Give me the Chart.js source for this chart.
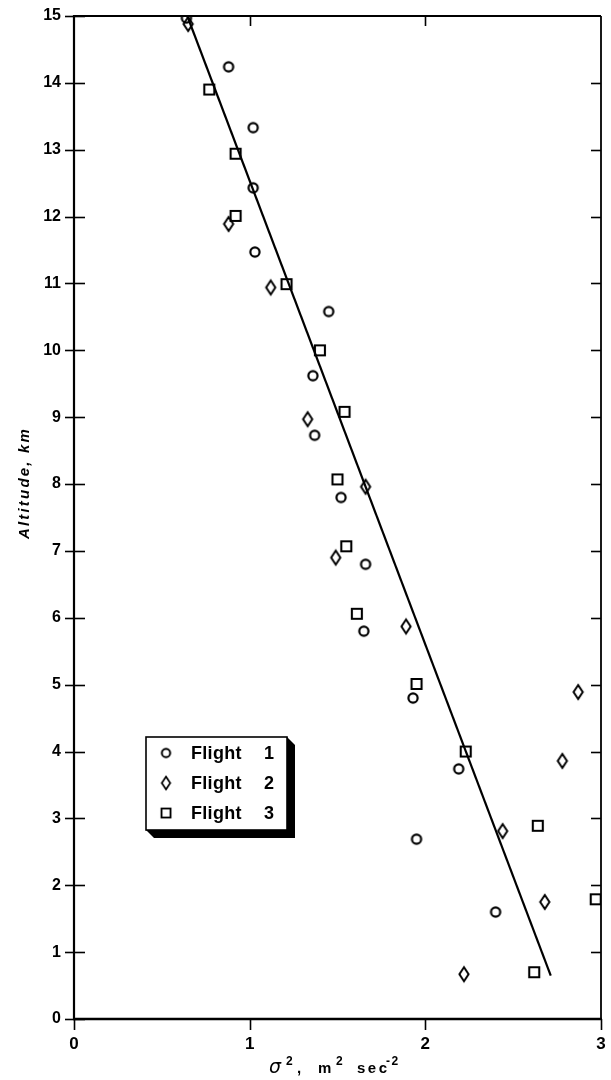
<!DOCTYPE html>
<html>
<head>
<meta charset="utf-8">
<script src="https://cdn.jsdelivr.net/npm/chart.js@4/dist/chart.umd.min.js"></script>
<style>
  html, body { margin: 0; padding: 0; background: #fff; }
  canvas { display: block; }
</style>
</head>
<body>
<canvas id="chart" width="611" height="1080"></canvas>
<script>
// Variance of vertical gust velocity against altitude, three flights
const flight1X = [0.64, 0.88, 1.02, 1.02, 1.03, 1.45, 1.36, 1.37, 1.52, 1.66, 1.65, 1.93, 2.19, 1.95, 2.40];
const flight1Y = [14.97, 14.24, 13.33, 12.43, 11.47, 10.58, 9.62, 8.73, 7.80, 6.80, 5.80, 4.80, 3.74, 2.69, 1.60];

const flight2X = [0.65, 0.88, 1.12, 1.33, 1.66, 1.49, 1.89, 2.87, 2.78, 2.44, 2.68, 2.22];
const flight2Y = [14.88, 11.89, 10.94, 8.97, 7.96, 6.90, 5.87, 4.89, 3.86, 2.81, 1.75, 0.67];

const flight3X = [0.77, 0.92, 0.92, 1.21, 1.40, 1.54, 1.50, 1.55, 1.61, 1.95, 2.23, 2.64, 2.62, 2.97];
const flight3Y = [13.90, 12.94, 12.01, 10.99, 10.00, 9.08, 8.07, 7.07, 6.06, 5.01, 4.00, 2.89, 0.70, 1.79];

// Straight-line fit through all flights
const fitX = [0.645, 2.714];
const fitY = [15.0, 0.65];

const xTicks = [0, 1, 2, 3];
const yTicks = [0, 1, 2, 3, 4, 5, 6, 7, 8, 9, 10, 11, 12, 13, 14, 15];
const seriesLabels = ['Flight 1', 'Flight 2', 'Flight 3'];

const INK = '#000';

function pairs(xs, ys) { return xs.map((x, i) => ({ x: x, y: ys[i] })); }

// Open plotting symbols drawn onto small canvases
function makeSymbol(kind) {
  const c = document.createElement('canvas');
  c.width = 18; c.height = 20;
  const g = c.getContext('2d');
  g.strokeStyle = INK;
  const cx = 9, cy = 10;
  g.beginPath();
  if (kind === 'circle') {
    g.lineWidth = 2.2;
    g.arc(cx, cy, 4.6, 0, Math.PI * 2);
  } else if (kind === 'diamond') {
    g.lineWidth = 2.0;
    g.moveTo(cx, cy - 7);
    g.lineTo(cx + 4.6, cy);
    g.lineTo(cx, cy + 7);
    g.lineTo(cx - 4.6, cy);
    g.closePath();
  } else {
    g.lineWidth = 2.1;
    g.rect(cx - 5, cy - 5, 10, 10);
  }
  g.stroke();
  return c;
}
const symCircle = makeSymbol('circle');
const symDiamond = makeSymbol('diamond');
const symSquare = makeSymbol('square');

// Frame, tick marks, axis titles and the boxed key
const decorations = {
  id: 'decorations',
  afterDatasetsDraw(chart) {
    const ctx = chart.ctx;
    const xs = chart.scales.x, ys = chart.scales.y;
    const L = xs.getPixelForValue(0), R = xs.getPixelForValue(3);
    const B = ys.getPixelForValue(0), T = ys.getPixelForValue(15);
    ctx.save();
    ctx.strokeStyle = INK;
    ctx.lineCap = 'butt';

    // frame
    ctx.lineWidth = 2.2;
    ctx.beginPath(); ctx.moveTo(L, T - 1); ctx.lineTo(L, B + 1); ctx.stroke();
    ctx.lineWidth = 2.6;
    ctx.beginPath(); ctx.moveTo(L - 1, B); ctx.lineTo(R + 1, B); ctx.stroke();
    ctx.lineWidth = 1.8;
    ctx.beginPath(); ctx.moveTo(L, T); ctx.lineTo(R, T); ctx.stroke();
    ctx.beginPath(); ctx.moveTo(R, T); ctx.lineTo(R, B); ctx.stroke();

    // left ticks cross the axis, right ticks point inward
    ctx.lineWidth = 1.6;
    yTicks.forEach(v => {
      const py = Math.round(ys.getPixelForValue(v)) + 0.5;
      ctx.beginPath(); ctx.moveTo(L - 9, py); ctx.lineTo(L + 11, py); ctx.stroke();
      if (v > 0 && v < 15) {
        ctx.beginPath(); ctx.moveTo(R - 10, py); ctx.lineTo(R, py); ctx.stroke();
      }
    });
    // bottom ticks point down, top ticks point inward
    xTicks.forEach(v => {
      const px = Math.round(xs.getPixelForValue(v)) + 0.5;
      ctx.beginPath(); ctx.moveTo(px, B); ctx.lineTo(px, B + 11); ctx.stroke();
      if (v > 0 && v < 3) {
        ctx.beginPath(); ctx.moveTo(px, T); ctx.lineTo(px, T + 10); ctx.stroke();
      }
    });

    ctx.fillStyle = INK;
    ctx.textBaseline = 'alphabetic';

    // y-axis title
    ctx.save();
    ctx.translate(29, 483);
    ctx.rotate(-Math.PI / 2);
    ctx.font = 'italic bold 15px "Liberation Sans", Arial, sans-serif';
    ctx.letterSpacing = '2.2px';
    ctx.textAlign = 'center';
    ctx.fillText('Altitude, km', 0, 0);
    ctx.restore();

    // x-axis title with superscripts
    const base = 1073;
    const sup = 'bold 12px "Liberation Sans", Arial, sans-serif';
    const main = 'bold 15px "Liberation Sans", Arial, sans-serif';
    const parts = [
      { t: 'σ', f: 'italic 19px "DejaVu Sans", sans-serif', x: 269, dy: 0, ls: '0px' },
      { t: '2', f: sup, x: 286, dy: -8, ls: '0px' },
      { t: ',', f: main, x: 297, dy: 0, ls: '0px' },
      { t: 'm', f: main, x: 318, dy: 0, ls: '0px' },
      { t: '2', f: sup, x: 336, dy: -8, ls: '0px' },
      { t: 'sec', f: main, x: 357, dy: 0, ls: '2.5px' },
      { t: '-2', f: sup, x: 386, dy: -8, ls: '1.5px' }
    ];
    ctx.textAlign = 'left';
    parts.forEach(p => {
      ctx.font = p.f;
      ctx.letterSpacing = p.ls;
      ctx.fillText(p.t, p.x, base + p.dy);
    });
    ctx.letterSpacing = '0px';

    // key box with drop shadow
    const bx = 146, by = 737, bw = 141, bh = 93, sh = 8;
    ctx.fillStyle = INK;
    ctx.beginPath();
    ctx.moveTo(bx + bw, by);
    ctx.lineTo(bx + bw + sh, by + sh);
    ctx.lineTo(bx + bw + sh, by + bh + sh);
    ctx.lineTo(bx + sh, by + bh + sh);
    ctx.lineTo(bx, by + bh);
    ctx.closePath();
    ctx.fill();
    ctx.fillStyle = '#fff';
    ctx.fillRect(bx, by, bw, bh);
    ctx.lineWidth = 1.6;
    ctx.strokeRect(bx, by, bw, bh);

    const rows = [753, 783, 813];
    ctx.fillStyle = INK;
    ctx.textBaseline = 'middle';
    chart.data.datasets.forEach((ds, i) => {
      if (i >= seriesLabels.length) return;
      const img = ds.pointStyle;
      const ry = rows[i];
      const scale = 0.9;
      const w = img.width * scale, h = img.height * scale;
      ctx.drawImage(img, 166 - w / 2, ry - h / 2, w, h);
      const words = ds.label.split(' ');
      ctx.font = 'bold 18px "Liberation Sans", Arial, sans-serif';
      ctx.letterSpacing = '0.3px';
      ctx.textAlign = 'left';
      ctx.fillText(words[0], 191, ry + 1);
      ctx.letterSpacing = '0px';
      ctx.fillText(words[1], 264, ry + 1);
    });
    ctx.restore();
  }
};

const tickFont = { family: '"Liberation Sans", Arial, sans-serif', size: 16, weight: 'bold' };

new Chart(document.getElementById('chart'), {
  type: 'scatter',
  data: {
    datasets: [
      { label: seriesLabels[0], data: pairs(flight1X, flight1Y), pointStyle: symCircle, pointRadius: 5, clip: 0 },
      { label: seriesLabels[1], data: pairs(flight2X, flight2Y), pointStyle: symDiamond, pointRadius: 5, clip: 0 },
      { label: seriesLabels[2], data: pairs(flight3X, flight3Y), pointStyle: symSquare, pointRadius: 5, clip: 0 },
      {
        type: 'line', label: 'fit', data: pairs(fitX, fitY),
        borderColor: INK, borderWidth: 2.2, pointRadius: 0, fill: false, clip: 0
      }
    ]
  },
  options: {
    responsive: false,
    devicePixelRatio: 1,
    animation: false,
    layout: { padding: { top: 16, right: 10, left: 0, bottom: 0 } },
    plugins: { legend: { display: false }, tooltip: { enabled: false } },
    scales: {
      x: {
        type: 'linear', min: 0, max: 3,
        grid: { display: false, drawTicks: false },
        border: { display: false },
        afterBuildTicks: s => { s.ticks = xTicks.map(v => ({ value: v })); },
        afterFit: s => { s.height = 61; s.paddingLeft = 0; s.paddingRight = 0; },
        ticks: { color: INK, font: { ...tickFont, size: 17 }, padding: 15, maxRotation: 0 }
      },
      y: {
        type: 'linear', min: 0, max: 15,
        grid: { display: false, drawTicks: false },
        border: { display: false },
        afterBuildTicks: s => { s.ticks = yTicks.map(v => ({ value: v })); },
        afterFit: s => { s.width = 74; s.paddingTop = 0; s.paddingBottom = 0; },
        ticks: { color: INK, font: tickFont, padding: 13 }
      }
    }
  },
  plugins: [decorations]
});
</script>
</body>
</html>
